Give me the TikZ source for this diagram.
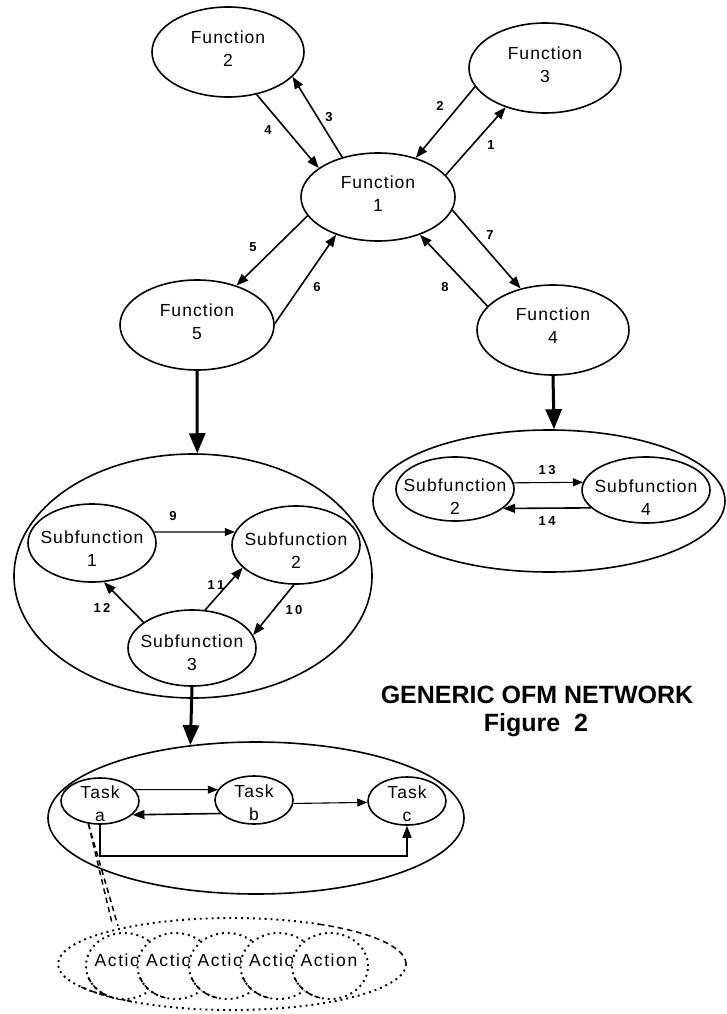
\documentclass[tikz,border=0pt]{standalone}
\usepackage{fontspec}
\setmainfont{Liberation Sans}
\newfontfamily\spfont[LetterSpace=6]{Liberation Sans}
\newfontfamily\acfont[LetterSpace=9]{Liberation Sans}
\usetikzlibrary{shapes.geometric,arrows.meta,calc}
\begin{document}
\begin{tikzpicture}[x=1pt,y=-1pt,
  ell/.style={draw,ellipse,line width=1.6pt,inner sep=0pt},
  esz/.style 2 args={minimum width=#1pt,minimum height=#2pt},
  txt/.style={align=center,font=\spfont\fontsize{17.5}{23}\selectfont,inner sep=0pt},
  acttxt/.style={font=\acfont\fontsize{17.5}{23}\selectfont,inner sep=0pt},
  num/.style={font=\bfseries\fontsize{13}{15}\selectfont,inner sep=0pt},
  med/.style={line width=1.6pt,-{Triangle[length=12pt,width=9pt]}},
  thin/.style={line width=1.1pt,-{Triangle[length=10pt,width=8pt]}},
  big/.style={line width=3pt,-{Triangle[length=20pt,width=16pt]}},
  dot/.style={line width=1.9pt,dash pattern=on 1.9pt off 4pt},
  dsh/.style={line width=1.5pt,dash pattern=on 5.5pt off 4pt},
  actell/.style={ellipse,draw,fill=white,inner sep=0pt,dot,minimum width=76pt,minimum height=66pt},
  title/.style={font=\bfseries\fontsize{25}{30}\selectfont,inner sep=0pt}
]
\useasboundingbox (0,0) rectangle (726,1014);

% ---- functions
\node[ell,esz={152}{90}] (f2) at (228,52) {};
\node[ell,esz={152}{90}] (f3) at (545,68) {};
\node[ell,esz={154}{88}] (f1) at (378,197) {};
\node[ell,esz={154}{90}] (f5) at (197,325) {};
\node[ell,esz={152}{90}] (f4) at (553,330) {};
\node[txt] (f2t) at ($(f2)+(0,-3)$) {Function\\2};
\node[txt] (f3t) at ($(f3)+(0,-3)$) {Function\\3};
\node[txt] (f1t) at ($(f1)+(0,-3)$) {Function\\1};
\node[txt] (f5t) at ($(f5)+(0,-3)$) {Function\\5};
\node[txt] (f4t) at ($(f4)+(0,-4)$) {Function\\4};

\draw[med] (f2.304.6) -- (f1.154.5);
\draw[med] (f1.132.9) -- (f2.339);
\draw[med] (f3.195.4) -- (f1.46.4);
\draw[med] (f1.18.2) -- (f3.225);
\draw[med] (f1.195) -- (f5.45.7);
\draw[med] (f5.1.5) -- (f1.222.7);
\draw[med] (f1.350.9) -- (f4.128.5);
\draw[med] (f4.160.3) -- (f1.318);

\node[num] (l4) at (268,130) {4};
\node[num] (l3) at (329,117) {3};
\node[num] (l2) at (440,106) {2};
\node[num] (l1) at (491,145) {1};
\node[num] (l5) at (253,247) {5};
\node[num] (l6) at (317,287) {6};
\node[num] (l7) at (490,235) {7};
\node[num] (l8) at (445,287) {8};

% ---- subfunction container (left)
\node[ell,esz={358}{244}] (sfc) at (193,576) {};
\node[ell,esz={128}{78}] (sf1) at (92,543) {};
\node[ell,esz={128}{78}] (sf2) at (296,545) {};
\node[ell,esz={128}{76}] (sf3) at (192,648) {};
\node[txt] at ($(sf1)+(0,6)$) {Subfunction\\1};
\node[txt] at ($(sf2)+(0,6)$) {Subfunction\\2};
\node[txt] at ($(sf3)+(0,5)$) {Subfunction\\3};

\draw[big] (f5.south) -- (sfc.88.6);
\draw[thin] (sf1.10.6) -- (sf2.168.5);
\draw[med] (sf3.71.1) -- (sf2.203.3);
\draw[med] (sf3.152.5) -- (sf1.287.5);
\draw[med] (sf2.267.2) -- (sf3.12);

\node[num] (l9) at (173,516) {9};
\node[num] (l11) at (216,585) {1\kern2.5pt 1};
\node[num] (l12) at (102,608) {1\kern2.5pt 2};
\node[num] (l10) at (294,610) {1\kern2.5pt 0};

% ---- subfunction container (right)
\node[ell,esz={352}{142}] (rc) at (549,501) {};
\node[ell,esz={118}{64}] (rs2) at (455,489) {};
\node[ell,esz={128}{66}] (rs4) at (646,490) {};
\node[txt] at ($(rs2)+(0,8)$) {Subfunction\\2};
\node[txt] at ($(rs4)+(0,8)$) {Subfunction\\4};

\draw[big] (f4.south) -- (rc.86);
\draw[thin] (rs2.6.8) -- (rs4.173.8);
\draw[med] (rs4.198.4) -- (rs2.338.4);
\node[num] (l13) at (547,470) {1\kern2.5pt 3};
\node[num] (l14) at (547,521) {1\kern2.5pt 4};

% ---- title
\node[title] (ttl) at (537,695) {GENERIC OFM NETWORK};
\node[title] (fig) at (536,725) {Figure\ \ 2};

% ---- task container
\node[ell,esz={416}{152}] (tk) at (256,818) {};
\node[ell,esz={78}{46}] (ta) at (100,801) {};
\node[ell,esz={78}{48}] (tb) at (254,800) {};
\node[ell,esz={78}{48}] (tcc) at (407,801) {};
\node[txt] at ($(ta)+(0,3)$) {Task\\a};
\node[txt] at ($(tb)+(0,3)$) {Task\\b};
\node[txt] at ($(tcc)+(0,3)$) {Task\\c};

\draw[big] (sf3.south) -- (tk.132.1);
\draw[thin] (ta.18.9) -- (tb.164.2);
\draw[med] (tb.202.6) -- (ta.337);
\draw[thin] (tb.355.6) -- (tcc.182.9);
\coordinate (tbot) at (250,856);
\draw[med] (ta.south) |- (tbot) -| (tcc.south);

% ---- actions
\node[ellipse,minimum width=348pt,minimum height=92pt,inner sep=0pt] (aout) at (232,964) {};
\draw[dot] ($(aout)+(174,0)$) arc[start angle=0,end angle=300,x radius=174,y radius=46];
\draw[dsh] ($(aout)+(87,-39.8)$) arc[start angle=300,end angle=360,x radius=174,y radius=46];
\draw[dsh] ($(aout)+(-150.7,23)$) arc[start angle=150,end angle=125,x radius=174,y radius=46];

\coordinate (d1) at (112,923);
\coordinate (d2) at (118,926);
\draw[dsh] (ta.243) -- (d1);
\draw[dsh] (ta.243) -- (d2);

\foreach \i/\xx in {1/124,2/175.5,3/227,4/278.5,5/330}{
  \node[actell] (a\i) at (\xx,966) {};
  \draw[dsh] ($(a\i)+(-35.7,11.3)$) arc[start angle=160,end angle=100,x radius=38,y radius=33];
  \node[acttxt] (a\i t) at ($(a\i)+(-1,-6)$) {Action};
}
\end{tikzpicture}
\end{document}
